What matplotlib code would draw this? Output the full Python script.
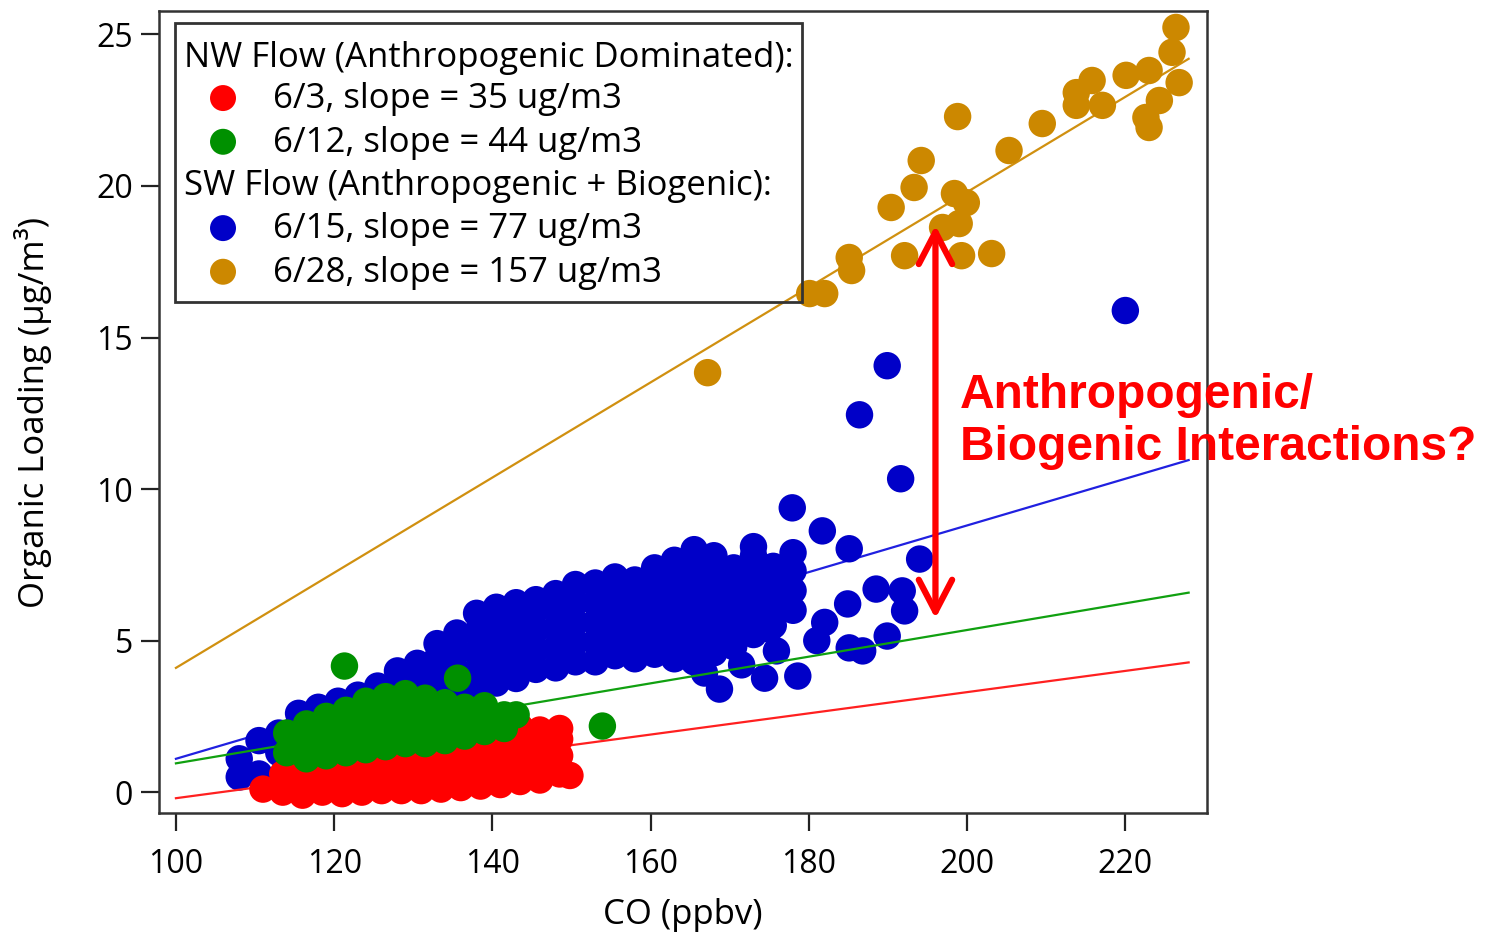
import numpy as np
import matplotlib
matplotlib.use('Agg')
import matplotlib.pyplot as plt
from matplotlib.patches import Rectangle

plt.rcParams['font.family'] = ['Open Sans', 'DejaVu Sans']

# ---- data: CO (ppbv) vs organic loading (ug/m3) ----
# 6/15 (blue) - SW flow
blue_co = [108, 108, 110.5, 110.5, 113, 113, 115.5, 115.5, 115.5, 118, 118, 118,
           120.5, 120.5, 120.5, 123, 123, 125.5, 125.5, 125.5, 128, 128, 128,
           130.5, 130.5, 130.5, 133, 133, 133, 133, 135.5, 135.5, 135.5, 135.5,
           138, 138, 138, 138, 138, 140.5, 140.5, 140.5, 140.5, 140.5,
           143, 143, 143, 143, 143, 145.5, 145.5, 145.5, 145.5, 145.5,
           148, 148, 148, 148, 148, 150.5, 150.5, 150.5, 150.5, 150.5,
           153, 153, 153, 153, 153, 155.5, 155.5, 155.5, 155.5, 155.5,
           158, 158, 158, 158, 158, 160.5, 160.5, 160.5, 160.5, 160.5, 160.5,
           163, 163, 163, 163, 163, 163, 165.5, 165.5, 165.5, 165.5, 165.5, 165.5, 165.5,
           168, 168, 168, 168, 168, 168, 170.5, 170.5, 170.5, 170.5, 170.5,
           173, 173, 173, 173, 173, 173, 175.5, 175.5, 175.5, 175.5, 178, 178, 178, 178,
           166.8, 168.7, 171.5, 174.4, 175.9, 175.0, 178.6, 181.0, 182.0, 185.1,
           186.8, 189.9, 184.9, 188.5, 191.8, 192.1, 177.9, 181.7, 185.1, 194.0,
           189.9, 186.4, 191.6, 220.0]
blue_org = [0.5, 1.1, 0.6, 1.7, 1.3, 1.95, 1.6, 2.25, 2.6, 1.9, 2.55, 2.8,
            2.2, 2.85, 3.0, 2.5, 3.2, 2.6, 3.25, 3.5, 2.9, 3.55, 4.0,
            3.0, 3.65, 4.25, 3.1, 3.75, 4.4, 4.9, 3.35, 4.0, 4.65, 5.25,
            3.3, 3.95, 4.6, 5.25, 5.9, 3.6, 4.25, 4.9, 5.55, 6.1,
            3.75, 4.4, 5.05, 5.7, 6.25, 4.05, 4.7, 5.35, 6.0, 6.35,
            4.1, 4.75, 5.4, 6.05, 6.55, 4.3, 4.95, 5.6, 6.25, 6.85,
            4.3, 4.95, 5.6, 6.25, 6.9, 4.5, 5.15, 5.8, 6.45, 7.1,
            4.4, 5.05, 5.7, 6.35, 7.0, 4.55, 5.2, 5.85, 6.5, 7.15, 7.4,
            4.4, 5.05, 5.7, 6.35, 7.0, 7.65, 4.3, 4.95, 5.6, 6.25, 6.9, 7.55, 8.0,
            4.6, 5.25, 5.9, 6.55, 7.2, 7.8, 4.8, 5.45, 6.1, 6.75, 7.4,
            5.2, 5.85, 6.5, 7.15, 7.8, 8.1, 5.5, 6.15, 6.8, 7.45, 6.0, 6.65, 7.3, 7.9,
            3.93, 3.40, 4.2, 3.76, 4.66, 5.38, 3.83, 5.0, 5.6, 4.76,
            4.66, 5.15, 6.21, 6.70, 6.64, 5.98, 9.38, 8.62, 8.03, 7.69,
            14.07, 12.45, 10.34, 15.89]

# 6/3 (red) - NW flow
red_co = [111, 113.5, 113.5, 116, 116, 116, 118.5, 118.5, 118.5, 121, 121, 121,
          123.5, 123.5, 123.5, 126, 126, 126, 128.5, 128.5, 128.5, 131, 131, 131,
          133.5, 133.5, 133.5, 136, 136, 136, 136, 138.5, 138.5, 138.5,
          141, 141, 141, 141, 143.5, 143.5, 143.5, 143.5, 146, 146, 146, 146,
          148.5, 148.5, 148.5, 148.5, 149.8]
red_org = [0.1, 0.0, 0.6, -0.1, 0.35, 0.9, 0.0, 0.6, 1.1, -0.05, 0.35, 0.95,
           0.0, 0.6, 1.2, 0.05, 0.4, 1.0, 0.05, 0.65, 1.25, 0.05, 0.45, 1.05,
           0.1, 0.7, 1.3, 0.15, 0.5, 1.1, 1.5, 0.2, 0.8, 1.4,
           0.25, 0.65, 1.25, 1.85, 0.35, 0.95, 1.55, 2.15, 0.4, 0.85, 1.45, 2.05,
           0.6, 1.2, 1.75, 2.1, 0.55]

# 6/12 (green) - NW flow
green_co = [114, 114, 116.5, 116.5, 116.5, 119, 119, 119, 121.5, 121.5, 121.5, 121.5,
            124, 124, 124, 124, 126.5, 126.5, 126.5, 126.5, 129, 129, 129, 129,
            131.5, 131.5, 131.5, 131.5, 134, 134, 134, 136.5, 136.5, 136.5,
            139, 139, 139, 141.5, 141.5, 143, 121.3, 135.6, 153.9]
green_org = [1.3, 1.95, 1.1, 1.6, 2.25, 1.2, 1.9, 2.5, 1.3, 1.65, 2.3, 2.7,
             1.4, 2.0, 2.65, 3.0, 1.5, 1.85, 2.5, 3.15, 1.6, 2.2, 2.85, 3.25,
             1.6, 2.0, 2.65, 3.1, 1.7, 2.35, 2.95, 1.85, 2.2, 2.8,
             2.0, 2.5, 2.85, 2.1, 2.55, 2.55, 4.16, 3.76, 2.18]

# 6/28 (orange) - SW flow
orange_co = [226.4, 225.9, 220.1, 223.0, 226.8, 224.3, 222.6, 223.0, 215.8, 213.8,
             213.8, 217.1, 209.5, 205.3, 198.8, 194.2, 193.3, 190.4, 198.4, 199.9,
             199.0, 196.9, 199.3, 192.1, 203.1, 185.1, 185.4, 182.0, 180.1, 167.2]
orange_org = [25.23, 24.41, 23.65, 23.81, 23.41, 22.82, 22.26, 21.93, 23.48, 23.08,
              22.66, 22.66, 22.06, 21.17, 22.29, 20.84, 19.95, 19.29, 19.75, 19.45,
              18.76, 18.63, 17.70, 17.70, 17.77, 17.64, 17.21, 16.45, 16.45, 13.84]

dates = ['6/3', '6/12', '6/15', '6/28']
slopes = [35, 44, 77, 157]            # ug/m3 per ppmv
intercepts = [-0.2, 0.95, 1.1, 4.1]   # ug/m3 at CO = 100 ppbv
fit_range = [100, 228]

colors = ['#ff0000', '#009000', '#0000c8', '#cc8800']
line_colors = ['#ff2020', '#10a010', '#2020e0', '#d09010']

fig = plt.figure(figsize=(14.89, 9.32), dpi=100)
ax = fig.add_axes([0.107, 0.1273, 0.7035, 0.8608])

series = {'6/3': (red_co, red_org), '6/12': (green_co, green_org),
          '6/15': (blue_co, blue_org), '6/28': (orange_co, orange_org)}
# draw order: blue under red under green under orange, each fit line just below its points
order = [2, 0, 1, 3]
fx = np.array(fit_range, dtype=float)
for k, i in enumerate(order):
    co, org = series[dates[i]]
    ax.plot(fx, intercepts[i] + slopes[i] / 1000.0 * (fx - 100), color=line_colors[i],
            lw=1.6, zorder=2 + 2 * k)
    ax.scatter(co, org, s=390, color=colors[i], edgecolors='none', zorder=3 + 2 * k)

ax.set_xlim(97.9, 230.3)
ax.set_ylim(-0.7, 25.77)
ax.set_xticks([100, 120, 140, 160, 180, 200, 220])
ax.set_yticks([0, 5, 10, 15, 20, 25])
ax.tick_params(direction='out', length=13, width=1.6, labelsize=23, color='#222222')
ax.tick_params(axis='x', pad=12)
ax.tick_params(axis='y', pad=6)
for sp in ax.spines.values():
    sp.set_linewidth(1.8)
    sp.set_color('#333333')
ax.set_xlabel('CO (ppbv)', fontsize=25, labelpad=12)
ax.set_ylabel('Organic Loading (µg/m³)', fontsize=25, labelpad=32)

# legend box, drawn by hand like the original
ax.add_patch(Rectangle((0.0145, 0.6377), 0.5989, 0.347, transform=ax.transAxes,
                       fill=False, ec='#333333', lw=2, zorder=20))
rows = [('NW Flow (Anthropogenic Dominated):', None),
        (dates[0], 0), (dates[1], 1),
        ('SW Flow (Anthropogenic + Biogenic):', None),
        (dates[2], 2), (dates[3], 3)]
row_y = [0.9306, 0.8791, 0.8246, 0.7706, 0.7170, 0.6626]
for (label, idx), yy in zip(rows, row_y):
    if idx is None:
        ax.text(0.0236, yy, label, transform=ax.transAxes, fontsize=25,
                va='baseline', ha='left', zorder=21)
    else:
        ax.scatter([0.0608], [yy + 0.0125], s=350, color=colors[idx],
                   edgecolors='none', transform=ax.transAxes, zorder=21, clip_on=False)
        ax.text(0.1085, yy, f'{label}, slope = {slopes[idx]} ug/m3',
                transform=ax.transAxes, fontsize=25, va='baseline', ha='left', zorder=21)

# arrow and annotation
ax.annotate('', xy=(196.0, 5.73), xytext=(196.0, 18.7),
            arrowprops=dict(arrowstyle='<->,head_length=1.15,head_width=0.6',
                            color='#ff0000', lw=4.5, shrinkA=0, shrinkB=0,
                            mutation_scale=20), zorder=25)
ax.text(199.1, 10.95, 'Anthropogenic/\nBiogenic Interactions?', color='#ff0000',
        fontsize=34.5, fontweight='bold', family='Liberation Sans', va='baseline',
        ha='left', linespacing=1.2, zorder=25)

fig.savefig('out.png', dpi=100)
